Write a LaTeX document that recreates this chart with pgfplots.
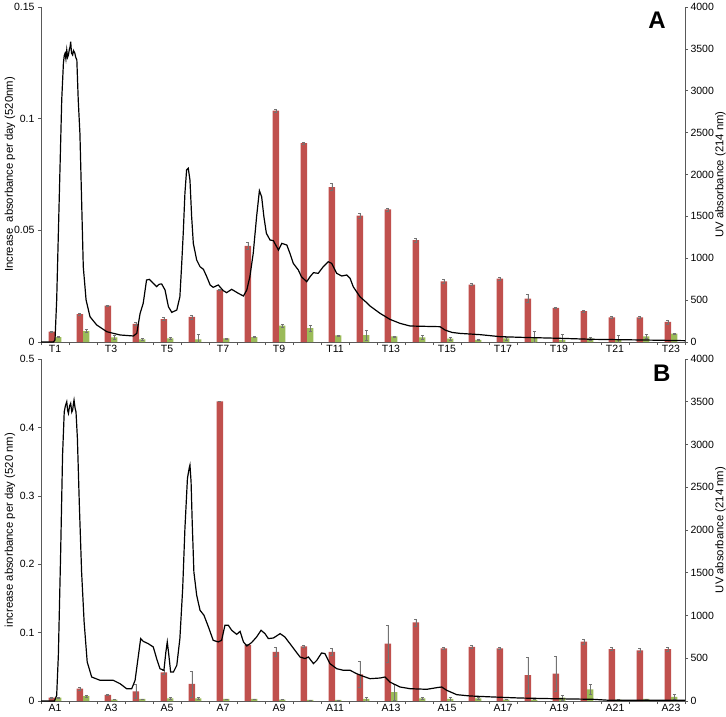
\documentclass[border=0pt]{standalone}
\usepackage{pgfplots}
\pgfplotsset{compat=1.18}
\usepackage{pgfplotstable}
\usepackage{fontspec}
\setmainfont{Liberation Sans}
\definecolor{barred}{HTML}{C0504D}
\definecolor{bargreen}{HTML}{9BBB59}

\pgfplotstableread{
x r re g ge
1 0.0046 0.0003 0.0022 0.0002
2 0.0125 0.0006 0.0049 0.0007
3 0.0163 0.0003 0.0021 0.0010
4 0.0081 0.0006 0.0012 0.0003
5 0.0103 0.0006 0.0016 0.0005
6 0.0113 0.0009 0.0012 0.0022
7 0.0233 0.0003 0.0016 0.0002
8 0.0430 0.0015 0.0022 0.0002
9 0.1036 0.0008 0.0073 0.0006
10 0.0890 0.0003 0.0062 0.0015
11 0.0694 0.0015 0.0030 0.0002
12 0.0566 0.0012 0.0031 0.0023
13 0.0594 0.0007 0.0025 0.0002
14 0.0456 0.0008 0.0021 0.0009
15 0.0272 0.0010 0.0015 0.0006
16 0.0257 0.0005 0.0010 0.0004
17 0.0284 0.0008 0.0016 0.0006
18 0.0194 0.0018 0.0022 0.0025
19 0.0153 0.0003 0.0010 0.0025
20 0.0138 0.0004 0.0015 0.0005
21 0.0110 0.0004 0.0012 0.0017
22 0.0110 0.0005 0.0025 0.0009
23 0.0090 0.0009 0.0037 0.0002
}\dataA

\pgfplotstableread{
x r re g ge
1 0.005 0.001 0.005 0.001
2 0.018 0.002 0.007 0.001
3 0.009 0.001 0.002 0.000
4 0.014 0.010 0.003 0.000
5 0.042 0.003 0.004 0.001
6 0.025 0.019 0.004 0.001
7 0.438 0.000 0.003 0.000
8 0.082 0.001 0.003 0.000
9 0.072 0.007 0.002 0.000
10 0.080 0.002 0.0015 0.000
11 0.072 0.005 0.0015 0.000
12 0.039 0.019 0.003 0.003
13 0.084 0.027 0.013 0.012
14 0.115 0.005 0.004 0.001
15 0.077 0.001 0.003 0.003
16 0.079 0.002 0.004 0.002
17 0.077 0.002 0.002 0.000
18 0.038 0.026 0.002 0.000
19 0.040 0.026 0.005 0.004
20 0.087 0.004 0.017 0.007
21 0.076 0.002 0.002 0.000
22 0.074 0.003 0.003 0.000
23 0.076 0.003 0.006 0.004
}\dataB

\pgfplotstableread{
x uv
0.5 0
0.94 0
1.00 24
1.06 501
1.15 1696
1.24 2889
1.30 3327
1.33 3420
1.36 3447
1.39 3380
1.42 3486
1.45 3400
1.48 3427
1.51 3490
1.54 3526
1.56 3586
1.59 3450
1.63 3427
1.66 3480
1.71 3447
1.74 3400
1.78 3367
1.83 2889
1.89 2491
1.95 1696
2.01 899
2.11 502
2.25 302
2.49 203
2.85 123
3.32 84
3.80 72
3.92 103
4.04 342
4.15 462
4.27 740
4.37 748
4.51 700
4.63 661
4.72 690
4.81 693
4.93 621
5.05 422
5.17 354
5.35 382
5.46 541
5.52 899
5.58 1297
5.64 1775
5.70 2054
5.76 2074
5.82 1934
5.88 1497
5.94 1178
6.06 979
6.18 899
6.30 868
6.42 780
6.54 681
6.65 653
6.83 681
7.01 613
7.13 589
7.31 629
7.55 581
7.73 549
7.85 621
7.96 780
8.08 1059
8.20 1497
8.30 1807
8.38 1735
8.46 1497
8.55 1297
8.68 1218
8.80 1210
8.98 1098
9.10 1178
9.28 1158
9.39 1059
9.51 939
9.69 860
9.80 780
9.99 720
10.11 780
10.23 828
10.40 820
10.58 899
10.76 959
10.88 939
11.06 820
11.24 788
11.42 800
11.54 760
11.65 661
11.89 541
12.13 470
12.25 430
12.61 342
12.96 271
13.32 223
13.68 191
14.75 183
14.93 143
15.17 115
15.46 103
16.18 88
16.89 64
17.61 56
19.04 44
20.21 32
22.0 24
23.5 16
}\uvA

\pgfplotstableread{
x uv
0.5 0
0.98 0
1.06 66
1.12 535
1.20 1705
1.27 2876
1.33 3383
1.37 3450
1.42 3500
1.45 3400
1.48 3364
1.52 3450
1.56 3481
1.60 3380
1.63 3403
1.66 3480
1.68 3520
1.72 3420
1.75 3383
1.80 3071
1.87 2290
1.95 1510
2.04 925
2.15 457
2.31 281
2.61 242
3.08 242
3.32 203
3.56 144
3.74 144
3.86 242
3.98 535
4.06 730
4.15 698
4.33 671
4.51 632
4.63 496
4.75 378
4.89 359
4.96 574
5.01 691
5.06 554
5.13 339
5.23 339
5.35 418
5.46 730
5.56 1315
5.64 2017
5.73 2603
5.79 2720
5.82 2759
5.86 2564
5.90 2095
5.96 1510
6.06 1237
6.18 1061
6.32 1003
6.48 866
6.65 710
6.83 691
6.95 710
7.07 886
7.19 886
7.31 827
7.49 780
7.61 815
7.73 691
7.85 644
8.02 683
8.20 749
8.36 827
8.50 788
8.62 730
8.80 737
9.04 788
9.21 749
9.39 671
9.57 593
9.75 515
9.93 496
10.05 515
10.23 437
10.35 476
10.52 562
10.64 554
10.82 437
11.06 378
11.30 359
11.54 359
11.77 320
12.00 290
12.25 261
12.61 269
12.79 281
12.96 222
13.32 164
13.68 144
14.28 137
14.63 156
14.81 164
14.99 125
15.35 74
15.82 59
16.65 47
17.61 35
18.79 27
20.21 20
20.82 8
23.5 8
}\uvB

\pgfplotsset{
 baseax/.style={scale only axis, width=644pt, xmin=0.5, xmax=23.5, ymin=0,
   /pgf/number format/assume math mode=true,
   /pgf/number format/1000 sep={},
   scaled y ticks=false,
   tick label style={font=\fontsize{10.5}{12}\selectfont},
   label style={font=\fontsize{11.3}{13}\selectfont},
   tick align=outside, major tick length=3pt, minor tick length=3pt,
   axis line style={black!65, line width=0.8pt},
   tick style={black!65, line width=0.6pt}},
 leftax/.style={baseax, axis y line*=left, axis x line*=bottom,
   ybar=0pt, bar width=6.3pt,
   xtick={0.5,1.5,...,23.5}, xticklabels={},
   extra x tick style={major tick length=0pt},
   yticklabel style={/pgf/number format/fixed, /pgf/number format/precision=2},
   ylabel style={at={(axis description cs:0,0.5)}, anchor=center, rotate=0, yshift=31pt}},
 rightax/.style={baseax, axis y line*=right, axis x line=none, ymax=4000,
   ytick={0,500,...,4000},
   yticklabel style={xshift=-1pt},
   ylabel style={at={(axis description cs:1,0.5)}, anchor=center, rotate=0, yshift=-35.5pt}},
 errs/.style={error bars/.cd, y dir=both, y explicit,
   error bar style={black!55, line width=0.5pt},
   error mark options={rotate=90, black!55, mark size=1.6pt, line width=0.5pt}},
}

\begin{document}
\begin{tikzpicture}[x=1pt,y=1pt]
\useasboundingbox (0,0) rectangle (726,-716);

% Panel A bars
\begin{axis}[leftax, at={(41pt,-342pt)}, anchor=south west, height=335pt,
  ymax=0.15, ytick={0,0.05,0.1,0.15},
  extra x ticks={1,3,...,23},
  extra x tick labels={T1,T3,T5,T7,T9,T11,T13,T15,T17,T19,T21,T23},
  ylabel={Increase\ \ absorbance per day (520nm)}]
\addplot[fill=barred, draw=none, errs] table[x=x, y=r, y error=re] {\dataA};
\addplot[fill=bargreen, draw=none, errs] table[x=x, y=g, y error=ge] {\dataA};
\node[font=\bfseries\fontsize{24}{24}\selectfont] at (rel axis cs:0.9565,0.961) {A};
\end{axis}
% Panel A UV
\begin{axis}[rightax, at={(41pt,-342pt)}, anchor=south west, height=335pt,
  ylabel={UV absorbance (214 nm)}]
\addplot[black, line width=1.2pt, no marks] table[x=x, y=uv] {\uvA};
\end{axis}

% Panel B bars
\begin{axis}[leftax, at={(41pt,-701pt)}, anchor=south west, height=342pt,
  ymax=0.5, ytick={0,0.1,0.2,0.3,0.4,0.5},
  extra x ticks={1,3,...,23},
  extra x tick labels={A1,A3,A5,A7,A9,A11,A13,A15,A17,A19,A21,A23},
  ylabel={increase absorbance per day (520 nm)}]
\addplot[fill=barred, draw=none, errs] table[x=x, y=r, y error=re] {\dataB};
\addplot[fill=bargreen, draw=none, errs] table[x=x, y=g, y error=ge] {\dataB};
\node[font=\bfseries\fontsize{24}{24}\selectfont] at (rel axis cs:0.964,0.959) {B};
\end{axis}
% Panel B UV
\begin{axis}[rightax, at={(41pt,-701pt)}, anchor=south west, height=342pt,
  ylabel={UV absorbance (214 nm)}]
\addplot[black, line width=1.2pt, no marks] table[x=x, y=uv] {\uvB};
\end{axis}
\end{tikzpicture}
\end{document}
